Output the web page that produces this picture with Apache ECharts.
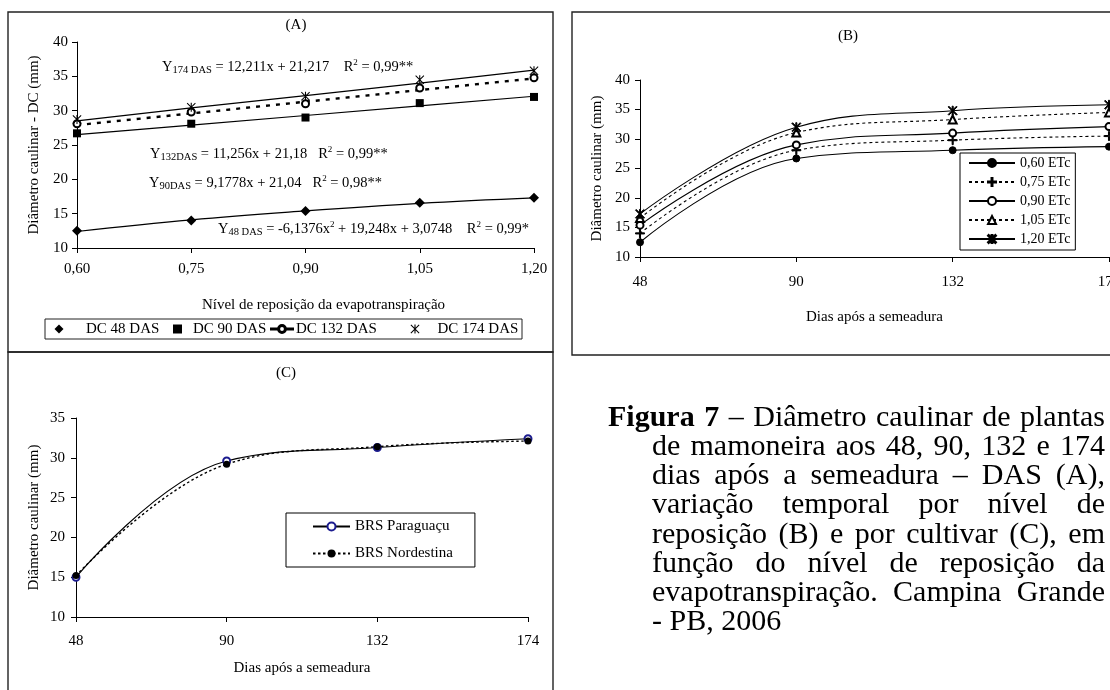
<!DOCTYPE html>
<html><head><meta charset="utf-8">
<script src="https://cdn.jsdelivr.net/npm/echarts@6/dist/echarts.min.js"></script>
<style>html,body{margin:0;padding:0;background:#fff;}#c{width:1110px;height:690px;}</style>
</head><body><div id="c"></div>
<script>
// ---------- Panel A: stem diameter vs ET replacement level ----------
const levels = ['0,60', '0,75', '0,90', '1,05', '1,20'];
const dc48  = [12.5, 14.0, 15.4, 16.6, 17.3];
const dc90  = [26.7, 28.1, 29.0, 31.1, 32.0];
const dc132 = [28.1, 29.8, 31.0, 33.3, 34.8];
const dc174 = [28.7, 30.5, 32.1, 34.5, 35.8];
// fitted regression curves at each level
const fit48  = [12.4, 14.1, 15.4, 16.5, 17.3];
const fit90  = [26.5, 27.9, 29.3, 30.7, 32.1];
const fit132 = [27.9, 29.6, 31.3, 33.0, 34.7];
const fit174 = [28.5, 30.4, 32.2, 34.0, 35.9];
const dasNames = ['DC 48 DAS', 'DC 90 DAS', 'DC 132 DAS', 'DC 174 DAS'];
// ---------- Panel B: by replacement level over time ----------
const days = ['48', '90', '132', '174'];
const etcNames = ['0,60 ETc', '0,75 ETc', '0,90 ETc', '1,05 ETc', '1,20 ETc'];
// ---------- Panel C: by cultivar over time ----------
const cultivarNames = ['BRS Paraguaçu', 'BRS Nordestina'];
const paraguacu  = [15.0, 29.6, 31.3, 32.4];
const nordestina = [15.2, 29.2, 31.4, 32.1];
// ---------- caption ----------
const captionLines = [
  'Figura 7 – Diâmetro caulinar de plantas',
  'de mamoneira aos 48, 90, 132 e 174',
  'dias após a semeadura – DAS (A),',
  'variação temporal por nível de',
  'reposição (B) e por cultivar (C), em',
  'função do nível de reposição da',
  'evapotranspiração. Campina Grande',
  '- PB, 2006'
];

const FF = '"Liberation Serif","Times New Roman",serif';
const BLACK = '#000';
const STAR = 'path://M4.4,0H5.6V10H4.4Z M0.8,0L5,4.2L9.2,0L10,0.8L5.8,5L10,9.2L9.2,10L5,5.8L0.8,10L0,9.2L4.2,5L0,0.8Z';
const PLUS = 'path://M4.4,0H5.6V4.4H10V5.6H5.6V10H4.4V5.6H0V4.4H4.4Z';
const RING = 'path://M0,4.1H7.1V4.9H0Z M14.9,4.1H22V4.9H14.9Z M7.1,4.5A3.9,3.9 0 1,1 14.9,4.5A3.9,3.9 0 1,1 7.1,4.5Z M8.1,4.5A2.9,2.9 0 1,0 13.9,4.5A2.9,2.9 0 1,0 8.1,4.5Z';

const txt = (size) => ({ color: BLACK, fontFamily: FF, fontSize: size });

function xCat(gi, data, name, labelMargin, nameGap, namePad) {
  return {
    gridIndex: gi, type: 'category', data: data, boundaryGap: false,
    axisLine: { show: true, lineStyle: { color: BLACK, width: 1 } },
    axisTick: { show: true, length: 5, interval: 0, lineStyle: { color: BLACK } },
    axisLabel: Object.assign(txt(15), { margin: labelMargin, interval: 0 }),
    splitLine: { show: false },
    name: name, nameLocation: 'middle', nameGap: nameGap,
    nameTextStyle: Object.assign(txt(15), { padding: namePad || 0 })
  };
}
function yVal(gi, min, max, name, nameGap, labelMargin) {
  return {
    gridIndex: gi, type: 'value', min: min, max: max, interval: 5,
    axisLine: { show: true, lineStyle: { color: BLACK, width: 1 } },
    axisTick: { show: true, length: 5, lineStyle: { color: BLACK } },
    axisLabel: Object.assign(txt(15), { margin: labelMargin }),
    splitLine: { show: false },
    name: name, nameLocation: 'middle', nameGap: nameGap, nameRotate: 90,
    nameTextStyle: txt(15)
  };
}

const series = [];
// Panel A fitted lines
[[fit48, 'solid', 1.2, true], [fit90, 'solid', 1.2, false], [fit132, [4, 6], 2.4, false], [fit174, 'solid', 1.2, false]]
  .forEach(function (f, i) {
    series.push({
      type: 'line', name: 'fit' + i, xAxisIndex: 0, yAxisIndex: 0, data: f[0],
      smooth: f[3] ? 0.4 : false, symbol: 'none', z: 2, silent: true,
      lineStyle: { color: BLACK, width: f[2], type: f[1] }
    });
  });
// Panel A measured points
const aSymbols = [['diamond', 10], ['rect', 8], ['emptyCircle', 7], [STAR, 9]];
[dc48, dc90, dc132, dc174].forEach(function (d, i) {
  series.push({
    type: 'scatter', name: dasNames[i], xAxisIndex: 0, yAxisIndex: 0, data: d,
    symbol: aSymbols[i][0], symbolSize: aSymbols[i][1], z: 4,
    itemStyle: { color: BLACK, borderColor: BLACK, borderWidth: aSymbols[i][0] === 'emptyCircle' ? 1 : 0, opacity: 1 }
  });
});
// Panel B: one curve per level (columns of the same measurements)
const bSymbols = [['circle', 7], [PLUS, 9], ['emptyCircle', 7], ['emptyTriangle', 8], [STAR, 9]];
etcNames.forEach(function (nm, i) {
  const vals = [dc48[i], dc90[i], dc132[i], dc174[i]];
  series.push({
    type: 'line', name: nm, xAxisIndex: 1, yAxisIndex: 1, data: vals,
    smooth: 0.4, symbol: bSymbols[i][0], symbolSize: bSymbols[i][1], showAllSymbol: true,
    lineStyle: { color: BLACK, width: 1.1, type: i % 2 === 1 ? [3, 3] : 'solid' },
    itemStyle: { color: BLACK, borderColor: BLACK, borderWidth: 1 }
  });
});
// Panel C
series.push({
  type: 'line', name: cultivarNames[0], xAxisIndex: 2, yAxisIndex: 2, data: paraguacu,
  smooth: 0.4, symbol: 'emptyCircle', symbolSize: 7, z: 3,
  lineStyle: { color: BLACK, width: 1.1, type: 'solid' },
  itemStyle: { color: '#1c1c8f', borderWidth: 1 }
});
series.push({
  type: 'line', name: cultivarNames[1], xAxisIndex: 2, yAxisIndex: 2, data: nordestina,
  smooth: 0.4, symbol: 'circle', symbolSize: 7, z: 4,
  lineStyle: { color: BLACK, width: 1.4, type: [2.5, 2.5] },
  itemStyle: { color: BLACK, borderWidth: 0 }
});

// ---------- graphic: frames, panel titles, equations, caption ----------
const graphic = [];
function frame(x, y, w, h, fill, lw) {
  graphic.push({ type: 'rect', shape: { x: x, y: y, width: w, height: h }, z: 0,
    style: { fill: fill || null, stroke: '#222', lineWidth: lw || 1.4 }, silent: true });
}
frame(8, 12, 545, 340);
frame(572, 12, 600, 343);
frame(8, 352, 545, 400);
frame(45, 319, 477, 20, '#fff', 1);   // panel A legend box
function label(text, x, y, size, align) {
  graphic.push({ type: 'text', silent: true, z: 10,
    style: { text: text, x: x, y: y, fill: BLACK, font: size + 'px ' + FF, align: align || 'center', verticalAlign: 'middle' } });
}
label('(A)', 296, 25, 15);
label('(B)', 848, 36, 15);
label('(C)', 286, 373, 15);

const eqRich = {
  m: { fontSize: 14.5, fontFamily: FF, lineHeight: 18, fill: BLACK },
  s: { fontSize: 10.5, fontFamily: FF, lineHeight: 12, verticalAlign: 'bottom', fill: BLACK },
  p: { fontSize: 9, fontFamily: FF, lineHeight: 10, verticalAlign: 'top', fill: BLACK }
};
const equations = [
  ['{m|Y}{s|174 DAS}{m| = 12,211x + 21,217    R}{p|2}{m| = 0,99**}', 162, 67],
  ['{m|Y}{s|132DAS}{m| = 11,256x + 21,18   R}{p|2}{m| = 0,99**}', 150, 154],
  ['{m|Y}{s|90DAS}{m| = 9,1778x + 21,04   R}{p|2}{m| = 0,98**}', 149, 183],
  ['{m|Y}{s|48 DAS}{m| = -6,1376x}{p|2}{m| + 19,248x + 3,0748    R}{p|2}{m| = 0,99*}', 218, 229]
];
equations.forEach(function (e) {
  graphic.push({ type: 'text', silent: true, z: 10,
    style: { text: e[0], x: e[1], y: e[2], align: 'left', verticalAlign: 'middle', rich: eqRich, fill: BLACK, font: '14.5px ' + FF } });
});

// caption, justified like the source
const cv = document.createElement('canvas').getContext('2d');
function measure(t, bold) { cv.font = (bold ? 'bold ' : '') + '30px "Liberation Serif"'; return cv.measureText(t).width; }
const capRight = 1105, capTop = 418, capStep = 29.2;
captionLines.forEach(function (line, li) {
  const words = line.split(' ');
  const x0 = li === 0 ? 608 : 652;
  const bolds = words.map(function (w, wi) { return li === 0 && wi < 2; });
  const widths = words.map(function (w, wi) { return measure(w, bolds[wi]); });
  const total = widths.reduce(function (a, b) { return a + b; }, 0);
  const justify = li < captionLines.length - 1;
  const gap = justify ? (capRight - x0 - total) / (words.length - 1) : measure(' ', false);
  let x = x0;
  words.forEach(function (w, wi) {
    graphic.push({ type: 'text', silent: true, z: 10,
      style: { text: w, x: x, y: capTop + li * capStep, fill: BLACK, align: 'left', verticalAlign: 'middle',
        font: (bolds[wi] ? 'bold ' : '') + '30px ' + FF } });
    x += widths[wi] + gap;
  });
});

// Panel A legend: one entry per legend component, placed like the source
const aLegendIcons = ['diamond', 'rect', RING, STAR];
const aLegendWidth = [9, 9, 22, 9];
const aLegendLeft = [54.5, 173, 270, 410.5];
const aLegendPad = [17.5, 6, -2, 13];
const legends = aLegendIcons.map(function (ic, i) {
  return { left: aLegendLeft[i], top: 321.5, orient: 'horizontal', itemWidth: aLegendWidth[i], itemHeight: 9,
    padding: 0, selectedMode: false, symbolKeepAspect: true,
    textStyle: Object.assign(txt(15), { padding: [0, 0, 0, aLegendPad[i]] }),
    data: [{ name: dasNames[i], icon: ic }] };
});
legends.push({ left: 960, top: 153, orient: 'vertical', itemWidth: 46, itemHeight: 10, itemGap: 5,
  padding: [3, 5, 4, 8], borderColor: BLACK, borderWidth: 1, backgroundColor: '#fff', selectedMode: false,
  textStyle: txt(14), data: etcNames });
legends.push({ left: 286, top: 513, orient: 'vertical', itemWidth: 37, itemHeight: 10, itemGap: 12,
  padding: [6, 22, 6, 26], borderColor: BLACK, borderWidth: 1, backgroundColor: '#fff', selectedMode: false,
  textStyle: txt(15), data: cultivarNames });

const chart = echarts.init(document.getElementById('c'), null, { renderer: 'canvas' });
chart.setOption({
  animation: false,
  backgroundColor: '#fff',
  textStyle: { fontFamily: FF, color: BLACK },
  grid: [
    { left: 77, top: 42, width: 457, height: 206, outerBoundsMode: 'none', containLabel: false },
    { left: 640, top: 80, width: 469, height: 177, outerBoundsMode: 'none', containLabel: false },
    { left: 76, top: 418, width: 452, height: 199, outerBoundsMode: 'none', containLabel: false }
  ],
  xAxis: [
    xCat(0, levels, 'Nível de reposição da evapotranspiração', 14, 50, [0, 0, 0, 36]),
    xCat(1, days, 'Dias após a semeadura', 18, 53),
    xCat(2, days, 'Dias após a semeadura', 17, 44)
  ],
  yAxis: [
    yVal(0, 10, 40, 'Diâmetro caulinar - DC (mm)', 35, 9),
    yVal(1, 10, 40, 'Diâmetro caulinar (mm)', 35, 10),
    yVal(2, 10, 35, 'Diâmetro caulinar (mm)', 34, 11)
  ],
  legend: legends,
  series: series,
  graphic: graphic
});
</script></body></html>
